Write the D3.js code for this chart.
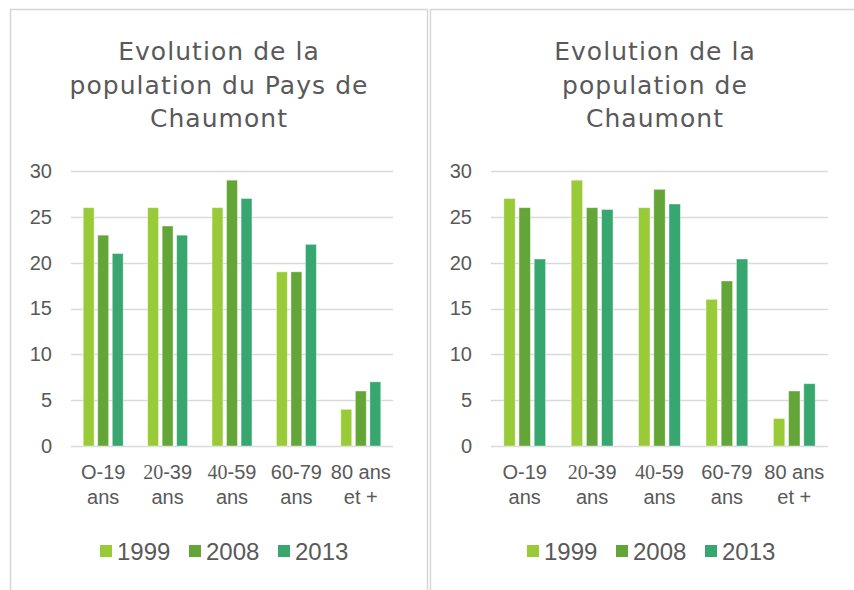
<!DOCTYPE html>
<html>
<head>
<meta charset="utf-8">
<script src="https://cdn.jsdelivr.net/npm/d3@7/dist/d3.min.js"></script>
<style>
  html, body { margin: 0; padding: 0; background: #fff; }
  svg { display: block; }
</style>
</head>
<body>
<svg id="chart" width="854" height="590"></svg>
<script>
// ---- data ----
const categories = ["O-19 ans", "20-39 ans", "40-59 ans", "60-79 ans", "80 ans et +"];
const years = ["1999", "2008", "2013"];
const yTicks = [0, 5, 10, 15, 20, 25, 30];

const paysTitle = ["Evolution de la", "population du Pays de", "Chaumont"];
const pays1999 = [26, 26, 26, 19, 4];
const pays2008 = [23, 24, 29, 19, 6];
const pays2013 = [21, 23, 27, 22, 7];

const villeTitle = ["Evolution de la", "population de", "Chaumont"];
const ville1999 = [27, 29, 26, 16, 3];
const ville2008 = [26, 26, 28, 18, 6];
const ville2013 = [20.4, 25.8, 26.4, 20.4, 6.8];

const colors = ["#99CB38", "#63A537", "#37A76F"];

// x label lines (some digits use a serif face like the original)
const labelLines = [
  [[{t:"O-19"}], [{t:"ans"}]],
  [[{t:"20", serif:true}, {t:"-39"}], [{t:"ans"}]],
  [[{t:"40", serif:true}, {t:"-59"}], [{t:"ans"}]],
  [[{t:"60-79"}], [{t:"ans"}]],
  [[{t:"80 ans"}], [{t:"et +"}]]
];

const svg = d3.select("#chart");
const textColor = "#595959";
const sans = "'Liberation Sans', Arial, sans-serif";

// panel frames
svg.append("rect").attr("x", 10.5).attr("y", 9.5).attr("width", 417).attr("height", 600)
  .attr("fill", "none").attr("stroke", "#d6d6d6").attr("stroke-width", 1.5);
svg.append("rect").attr("x", 430.5).attr("y", 9.5).attr("width", 440).attr("height", 600)
  .attr("fill", "none").attr("stroke", "#d6d6d6").attr("stroke-width", 1.5);

function drawChart(cfg) {
  const g = svg.append("g");
  const y = d3.scaleLinear().domain([0, 30]).range([446, 171]);
  const x0 = d3.scaleBand().domain(categories).range([cfg.left, cfg.right])
    .paddingInner(0.38).paddingOuter(0.19);
  const x1 = d3.scaleBand().domain(years).range([0, x0.bandwidth()]).paddingInner(0.25);

  // title
  g.append("text")
    .attr("text-anchor", "middle")
    .attr("font-family", "'DejaVu Sans', sans-serif")
    .attr("font-size", 25)
    .attr("letter-spacing", 1.05)
    .attr("fill", textColor)
    .selectAll("tspan").data(cfg.title).join("tspan")
    .attr("x", cfg.titleX)
    .attr("y", (d, i) => 60 + i * 33.5)
    .text(d => d);

  // gridlines
  g.append("g").selectAll("line").data(yTicks).join("line")
    .attr("x1", cfg.left).attr("x2", cfg.right)
    .attr("y1", d => Math.round(y(d)) + 0.5).attr("y2", d => Math.round(y(d)) + 0.5)
    .attr("stroke", "#d9d9d9").attr("stroke-width", 1.3);

  // y axis labels
  const yAxis = d3.axisLeft(y).tickValues(yTicks).tickSize(0).tickPadding(19);
  const ya = g.append("g").attr("transform", `translate(${cfg.left},0)`).call(yAxis);
  ya.select(".domain").remove();
  ya.selectAll("text").attr("font-family", sans).attr("font-size", 20).attr("fill", textColor);

  // bars
  const series = cfg.series;
  const grp = g.append("g").selectAll("g").data(categories).join("g")
    .attr("transform", d => `translate(${x0(d)},0)`);
  grp.selectAll("rect").data((c, ci) => years.map((yr, si) => ({yr, si, v: series[si][ci]})))
    .join("rect")
    .attr("x", d => x1(d.yr))
    .attr("width", x1.bandwidth())
    .attr("y", d => y(d.v))
    .attr("height", d => y(0) - y(d.v))
    .attr("fill", d => colors[d.si])
    .attr("stroke", "#ffffff").attr("stroke-opacity", 0.5).attr("stroke-width", 0.8);

  // x labels
  categories.forEach((c, ci) => {
    const cx = x0(c) + x0.bandwidth() / 2;
    labelLines[ci].forEach((line, li) => {
      const t = g.append("text")
        .attr("x", cx).attr("y", 479 + li * 24.5)
        .attr("text-anchor", "middle")
        .attr("font-family", sans).attr("font-size", 20).attr("fill", textColor);
      line.forEach(seg => {
        const ts = t.append("tspan").text(seg.t);
        if (seg.serif) ts.attr("font-family", "'Liberation Serif', 'Times New Roman', serif");
      });
    });
  });

  // legend
  const leg = g.append("g").selectAll("g").data(years).join("g")
    .attr("transform", (d, i) => `translate(${cfg.legendX + i * 89},0)`);
  leg.append("rect").attr("x", 0).attr("y", 545).attr("width", 12).attr("height", 12)
    .attr("fill", (d, i) => colors[i]);
  leg.append("text").attr("x", 17).attr("y", 560)
    .attr("font-family", sans).attr("font-size", 24).attr("fill", textColor)
    .text(d => d);
}

drawChart({
  title: paysTitle, titleX: 219, left: 71, right: 393, legendX: 100,
  series: [pays1999, pays2008, pays2013]
});
drawChart({
  title: villeTitle, titleX: 655, left: 491, right: 828, legendX: 527,
  series: [ville1999, ville2008, ville2013]
});
</script>
</body>
</html>
